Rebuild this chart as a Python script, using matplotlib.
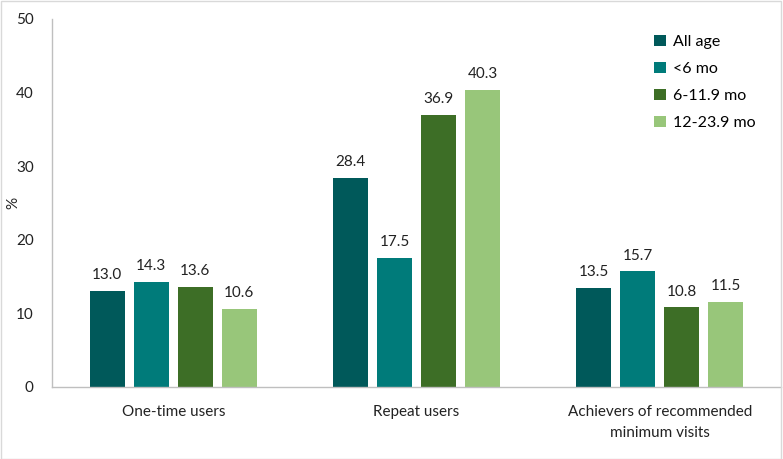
import matplotlib
matplotlib.use("Agg")
import matplotlib.pyplot as plt
import numpy as np
from matplotlib.patches import Rectangle

categories = ["One-time users", "Repeat users", "Achievers of recommended\nminimum visits"]
series_names = ["All age", "<6 mo", "6-11.9 mo", "12-23.9 mo"]
all_age = [13.0, 28.4, 13.5]
lt6 = [14.3, 17.5, 15.7]
m6_11 = [13.6, 36.9, 10.8]
m12_23 = [10.6, 40.3, 11.5]
series = [all_age, lt6, m6_11, m12_23]
colors = ["#00595A", "#007B7A", "#3D6E26", "#98C67A"]
yticks = [0, 10, 20, 30, 40, 50]

plt.rcParams['font.family'] = ['Lato', 'DejaVu Sans']

fig = plt.figure(figsize=(7.83, 4.59), dpi=100)
ax = fig.add_axes([0.066, 0.157, 0.932, 0.802])

x = np.arange(len(categories))
width = 0.144
pitch = 0.181
for i, (vals, c, name) in enumerate(zip(series, colors, series_names)):
    pos = x + (i - 1.5) * pitch
    bars = ax.bar(pos, vals, width, color=c, label=name)
    for b, v in zip(bars, vals):
        ax.text(b.get_x() + b.get_width() / 2, v + 1.2, f"{v:.1f}",
                ha="center", va="bottom", fontsize=11, color="#222222")

ax.set_xlim(-0.5, 2.5)
ax.set_ylim(0, 50)
ax.set_yticks(yticks)
ax.set_yticklabels([str(t) for t in yticks], fontsize=11, color="#222222")
ax.set_xticks(x)
ax.set_xticklabels(categories, fontsize=11, color="#222222", linespacing=1.6)
ax.tick_params(axis="both", length=0)
ax.tick_params(axis="y", pad=13)
ax.tick_params(axis="x", pad=13)
for s in ["top", "right"]:
    ax.spines[s].set_visible(False)
for s in ["left", "bottom"]:
    ax.spines[s].set_color("#BFBFBF")
    ax.spines[s].set_linewidth(1)
ax.set_ylabel("%", fontsize=11, color="#222222")
ax.yaxis.set_label_coords(-0.043, 0.5)

leg = ax.legend(loc="upper right", bbox_to_anchor=(0.985, 0.995), frameon=False,
                fontsize=11.5, handlelength=0.7, handleheight=0.7,
                labelspacing=0.8, handletextpad=0.5)

fig.patches.append(Rectangle((0.001, 0.001), 0.997, 0.997, transform=fig.transFigure,
                             fill=False, edgecolor="#D9D9D9", linewidth=1))

fig.savefig("out.png", dpi=100)
